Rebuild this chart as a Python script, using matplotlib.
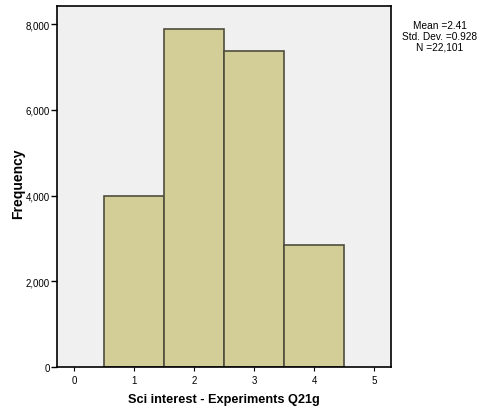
import matplotlib
matplotlib.use("Agg")
import matplotlib.pyplot as plt

plt.rcParams['font.family'] = ['Liberation Sans', 'DejaVu Sans']

categories = [1, 2, 3, 4]
frequencies = [4000, 7880, 7380, 2841]
xticks = [0, 1, 2, 3, 4, 5]
yticks = [0, 2000, 4000, 6000, 8000]
ytick_labels = ['0', '2,000', '4,000', '6,000', '8,000']
stats_text = "Mean =2.41\nStd. Dev. =0.928\nN =22,101"

fig = plt.figure(figsize=(4.87, 4.10), dpi=100)
ax = fig.add_axes([57/487, 42/410, (391-57)/487, (368-7)/410])
ax.set_facecolor('#f0f0f0')
ax.bar(categories, frequencies, width=1.0, color='#d3ce97', edgecolor='#4f4d3c', linewidth=1.2)
ax.set_xlim(-0.283, 5.283)
ax.set_ylim(0, 8420)
ax.set_xticks(xticks)
ax.set_xticklabels([str(t) for t in xticks], fontsize=7)
ax.set_yticks(yticks)
ax.set_yticklabels(ytick_labels, fontsize=7)
ax.tick_params(axis='y', length=4, width=1, pad=1)
ax.tick_params(axis='x', length=3, width=0.8, pad=3)
for s in ax.spines.values():
    s.set_linewidth(1.2)
    s.set_color('black')
ax.set_xlabel('Sci interest - Experiments Q21g', fontsize=9.2, fontweight='bold')
ax.set_ylabel('Frequency', fontsize=10, fontweight='bold')
ax.xaxis.set_label_coords((224-57)/334, -(400-368)/361, transform=ax.transAxes)
ax.xaxis.label.set_va('center')
ax.yaxis.set_label_coords(-(57-18)/334, (368-184)/361, transform=ax.transAxes)
ax.yaxis.label.set_va('center')
fig.text(440/487, 1 - 21/410, stats_text, ha='center', va='top', fontsize=7.3, linespacing=1.1)
fig.savefig('out.png', dpi=100)
